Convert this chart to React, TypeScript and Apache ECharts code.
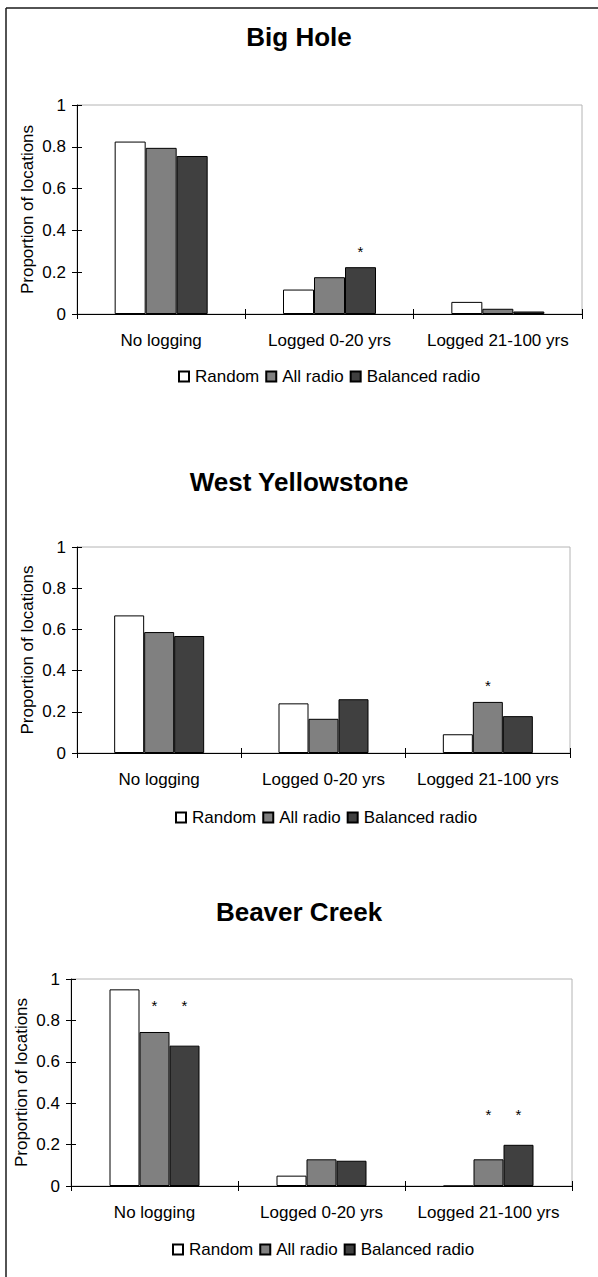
import React, { useEffect, useRef } from "react";
import * as echarts from "echarts";

// Habitat categories along the x axis and the three location sets
const categories = ["No logging", "Logged 0-20 yrs", "Logged 21-100 yrs"];
const seriesNames = ["Random", "All radio", "Balanced radio"];
const yMin = 0;
const yMax = 1;
const yInterval = 0.2;

// Big Hole
const bigHoleRandom = [0.825, 0.117, 0.058];
const bigHoleAllRadio = [0.795, 0.176, 0.025];
const bigHoleBalanced = [0.756, 0.224, 0.012];
const bigHoleRandomStars = [null, null, null];
const bigHoleAllRadioStars = [null, null, null];
const bigHoleBalancedStars = [null, 0.31, null];

// West Yellowstone
const westRandom = [0.668, 0.241, 0.091];
const westAllRadio = [0.587, 0.166, 0.248];
const westBalanced = [0.568, 0.261, 0.179];
const westRandomStars = [null, null, null];
const westAllRadioStars = [null, null, 0.339];
const westBalancedStars = [null, null, null];

// Beaver Creek
const beaverRandom = [0.95, 0.05, 0];
const beaverAllRadio = [0.744, 0.129, 0.129];
const beaverBalanced = [0.678, 0.122, 0.199];
const beaverRandomStars = [null, null, null];
const beaverAllRadioStars = [0.883, null, 0.359];
const beaverBalancedStars = [0.883, null, 0.359];

const FONT = "'Liberation Sans', Arial, Helvetica, sans-serif";
const fills = ["#ffffff", "#808080", "#404040"];
const W = 598;
const H = 1277;

type Panel = {
  title: string;
  titleTop: number;
  grid: { left: number; top: number; width: number; height: number };
  barWidth: number;
  legendLeft: number;
  legendTop: number;
  values: number[][];
  stars: (number | null)[][];
};

const panels: Panel[] = [
  {
    title: "Big Hole",
    titleTop: 19,
    grid: { left: 77, top: 105, width: 505, height: 209 },
    barWidth: 31,
    legendLeft: 173,
    legendTop: 363,
    values: [bigHoleRandom, bigHoleAllRadio, bigHoleBalanced],
    stars: [bigHoleRandomStars, bigHoleAllRadioStars, bigHoleBalancedStars],
  },
  {
    title: "West Yellowstone",
    titleTop: 464,
    grid: { left: 77, top: 547, width: 493, height: 206 },
    barWidth: 30,
    legendLeft: 170,
    legendTop: 804,
    values: [westRandom, westAllRadio, westBalanced],
    stars: [westRandomStars, westAllRadioStars, westBalancedStars],
  },
  {
    title: "Beaver Creek",
    titleTop: 894,
    grid: { left: 71, top: 979, width: 501, height: 207 },
    barWidth: 30,
    legendLeft: 167,
    legendTop: 1236,
    values: [beaverRandom, beaverAllRadio, beaverBalanced],
    stars: [beaverRandomStars, beaverAllRadioStars, beaverBalancedStars],
  },
];

function buildOption() {
  const title: any[] = [];
  const grid: any[] = [];
  const xAxis: any[] = [];
  const yAxis: any[] = [];
  const legend: any[] = [];
  const series: any[] = [];

  panels.forEach((p, g) => {
    title.push({
      text: p.title,
      left: "center",
      top: p.titleTop,
      textStyle: { fontFamily: FONT, fontSize: 26, fontWeight: "bold", color: "#000" },
    });
    grid.push({
      ...p.grid,
      show: true,
      borderColor: "#b4b4b4",
      borderWidth: 1,
      backgroundColor: "transparent",
    });

    // main category axis: labels and downward ticks at category boundaries
    xAxis.push({
      type: "category",
      gridIndex: g,
      data: categories,
      position: "bottom",
      axisLine: { show: true, lineStyle: { color: "#000", width: 1 } },
      axisTick: { show: true, length: 5, lineStyle: { color: "#000" } },
      axisLabel: { fontFamily: FONT, fontSize: 17, color: "#000", margin: 18, interval: 0 },
      splitLine: { show: false },
    });
    // companion axis on the same line giving the upward half of the cross ticks
    xAxis.push({
      type: "category",
      gridIndex: g,
      data: categories,
      position: "top",
      offset: -p.grid.height,
      axisLine: { show: false },
      axisTick: { show: true, length: 5, lineStyle: { color: "#000" } },
      axisLabel: { show: false },
      splitLine: { show: false },
    });

    yAxis.push({
      type: "value",
      gridIndex: g,
      min: yMin,
      max: yMax,
      interval: yInterval,
      position: "left",
      name: "Proportion of locations",
      nameLocation: "middle",
      nameGap: 41,
      nameMoveOverlap: false,
      nameTextStyle: { fontFamily: FONT, fontSize: 17, color: "#000" },
      axisLine: { show: true, lineStyle: { color: "#000", width: 1 } },
      axisTick: { show: true, length: 5, lineStyle: { color: "#000" } },
      axisLabel: { fontFamily: FONT, fontSize: 17, color: "#000", margin: 11 },
      splitLine: { show: false },
    });
    yAxis.push({
      type: "value",
      gridIndex: g,
      min: yMin,
      max: yMax,
      interval: yInterval,
      position: "right",
      offset: -p.grid.width,
      axisLine: { show: false },
      axisTick: { show: true, length: 5, lineStyle: { color: "#000" } },
      axisLabel: { show: false },
      splitLine: { show: false },
    });

    legend.push({
      data: seriesNames,
      left: p.legendLeft,
      top: p.legendTop,
      orient: "horizontal",
      icon: "rect",
      itemWidth: 10,
      itemHeight: 10,
      itemGap: 6,
      selectedMode: false,
      textStyle: { fontFamily: FONT, fontSize: 17, color: "#000", padding: [0, 0, 0, 1] },
    });

    seriesNames.forEach((name, i) => {
      const stackId = `panel${g}-${i}`;
      series.push({
        type: "bar",
        name,
        xAxisIndex: 2 * g,
        yAxisIndex: 2 * g,
        stack: stackId,
        barWidth: p.barWidth,
        barGap: "0%",
        data: p.values[i],
        silent: true,
        itemStyle: { color: fills[i], borderColor: "#000", borderWidth: 1 },
      });
      // transparent segment reaching up to the significance marker level
      series.push({
        type: "bar",
        name: `${name} marker ${g}`,
        xAxisIndex: 2 * g,
        yAxisIndex: 2 * g,
        stack: stackId,
        barWidth: p.barWidth,
        barGap: "0%",
        silent: true,
        data: p.stars[i].map((s, j) => (s == null ? "-" : s - p.values[i][j])),
        itemStyle: { color: "rgba(0,0,0,0)", borderWidth: 0 },
        label: {
          show: true,
          position: "top",
          distance: 0,
          offset: [0, 10],
          formatter: () => "*",
          fontFamily: FONT,
          fontSize: 15,
          color: "#000",
        },
      });
    });
  });

  return {
    animation: false,
    backgroundColor: "#ffffff",
    title,
    grid,
    xAxis,
    yAxis,
    legend,
    series,
    graphic: [
      {
        type: "line",
        shape: { x1: 6, y1: 8, x2: W, y2: 8 },
        style: { stroke: "#1a1a1a", lineWidth: 1.5 },
        silent: true,
      },
      {
        type: "line",
        shape: { x1: 6, y1: 8, x2: 6, y2: H },
        style: { stroke: "#1a1a1a", lineWidth: 1.5 },
        silent: true,
      },
    ],
  };
}

export default function App() {
  const ref = useRef<HTMLDivElement>(null);
  useEffect(() => {
    if (!ref.current) return;
    const chart = echarts.init(ref.current, undefined, { renderer: "svg" });
    chart.setOption(buildOption() as any);
    return () => chart.dispose();
  }, []);
  return (
    <div
      ref={ref}
      style={{ position: "absolute", left: 0, top: 0, width: W, height: H, background: "#fff" }}
    />
  );
}
